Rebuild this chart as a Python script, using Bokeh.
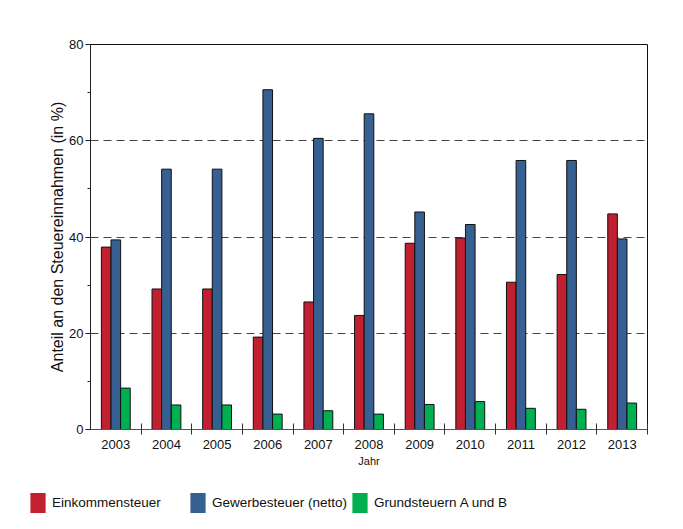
import numpy as np
from bokeh.plotting import figure
from bokeh.models import (ColumnDataSource, Range1d, LinearAxis, FixedTicker, Grid,
                          SingleIntervalTicker, Legend, LegendItem)
from bokeh.transform import dodge
from bokeh.embed import file_html
from bokeh.resources import INLINE

years = ["2003", "2004", "2005", "2006", "2007", "2008", "2009", "2010", "2011", "2012", "2013"]
einkommensteuer = [37.9, 29.2, 29.2, 19.2, 26.5, 23.7, 38.7, 39.8, 30.6, 32.2, 44.8]
gewerbesteuer = [39.4, 54.1, 54.1, 70.6, 60.5, 65.6, 45.2, 42.6, 55.9, 55.9, 39.6]
grundsteuern = [8.6, 5.1, 5.1, 3.2, 3.9, 3.2, 5.2, 5.8, 4.4, 4.2, 5.5]
series_names = ["Einkommensteuer", "Gewerbesteuer (netto)", "Grundsteuern A und B"]
colors = ["#C0202F", "#365F92", "#00B050"]
grid_values = [20, 40, 60]

FONT = "Liberation Sans"
n = len(years)
pos = list(np.arange(n) + 0.5)
src = ColumnDataSource(dict(pos=pos, year=years, ek=einkommensteuer,
                            gw=gewerbesteuer, gs=grundsteuern))

p = figure(frame_width=557, frame_height=385, output_backend="svg", toolbar_location=None,
           x_range=Range1d(0, n), y_range=Range1d(0, 80),
           x_axis_type=None, y_axis_type=None,
           min_border_left=90, min_border_right=28, min_border_top=44, min_border_bottom=46)
p.background_fill_color = "white"
p.border_fill_color = "white"
p.outline_line_color = "#111111"
p.outline_line_width = 1

grid = Grid(dimension=1, ticker=FixedTicker(ticks=grid_values),
            grid_line_color="#444444", grid_line_dash="8 5", grid_line_width=1.2)
p.add_layout(grid)

bw = 0.19
r1 = p.vbar(x=dodge("pos", -bw, range=p.x_range), top="ek", width=bw, source=src,
            fill_color=colors[0], line_color="#111111", line_width=1)
r2 = p.vbar(x=dodge("pos", 0.0, range=p.x_range), top="gw", width=bw, source=src,
            fill_color=colors[1], line_color="#111111", line_width=1)
r3 = p.vbar(x=dodge("pos", bw, range=p.x_range), top="gs", width=bw, source=src,
            fill_color=colors[2], line_color="#111111", line_width=1)

# x axis: labels at centers, ticks at boundaries (minor ticks)
xax = LinearAxis(ticker=FixedTicker(ticks=pos, minor_ticks=list(range(1, n + 1))))
xax.major_label_overrides = {float(v): y for v, y in zip(pos, years)}
xax.major_tick_line_color = None
xax.major_tick_out = 5
xax.major_tick_in = 0
xax.minor_tick_in = 6
xax.minor_tick_out = 5
xax.minor_tick_line_color = "#333333"
xax.axis_line_color = "#555555"
xax.major_label_standoff = 5
xax.major_label_text_font = FONT
xax.major_label_text_font_size = "13px"
xax.major_label_text_color = "#111111"
xax.axis_label = "Jahr"
xax.axis_label_text_font = FONT
xax.axis_label_text_font_size = "11px"
xax.axis_label_text_font_style = "normal"
xax.axis_label_text_color = "#111111"
xax.axis_label_standoff = 3
p.add_layout(xax, "below")

yax = LinearAxis(ticker=SingleIntervalTicker(interval=20, num_minor_ticks=2))
yax.major_tick_out = 5
yax.major_tick_in = 0
yax.minor_tick_out = 3
yax.minor_tick_in = 0
yax.major_tick_line_color = "#222222"
yax.minor_tick_line_color = "#222222"
yax.axis_line_color = "#222222"
yax.major_label_standoff = 2
yax.major_label_text_font = FONT
yax.major_label_text_font_size = "13px"
yax.major_label_text_color = "#111111"
yax.axis_label = "Anteil an den Steuereinnahmen (in %)"
yax.axis_label_text_font = FONT
yax.axis_label_text_font_size = "16px"
yax.axis_label_text_font_style = "normal"
yax.axis_label_text_color = "#111111"
yax.axis_label_standoff = 0
p.add_layout(yax, "left")

# legend strip as a second figure
lf = figure(width=675, height=52, output_backend="svg", toolbar_location=None,
            x_range=Range1d(0, 1), y_range=Range1d(0, 1),
            x_axis_type=None, y_axis_type=None,
            min_border_left=0, min_border_right=0, min_border_top=0, min_border_bottom=0)
lf.outline_line_color = None
lf.xgrid.grid_line_color = None
lf.ygrid.grid_line_color = None
lr = [lf.vbar(x=[-5], top=[0], bottom=[0], width=0.01, fill_color=c, line_color=None)
      for c in colors]
legend = Legend(items=[LegendItem(label=s, renderers=[r]) for s, r in zip(series_names, lr)],
                orientation="horizontal", location=(28, 12),
                glyph_width=19, glyph_height=25, label_standoff=5, label_width=133,
                spacing=3, padding=0, margin=0, border_line_color=None,
                background_fill_alpha=0,
                label_text_font=FONT, label_text_font_size="13.5px", label_text_color="#111111")
lf.add_layout(legend, "center")

open("out.html", "w").write(file_html([p, lf], INLINE))
